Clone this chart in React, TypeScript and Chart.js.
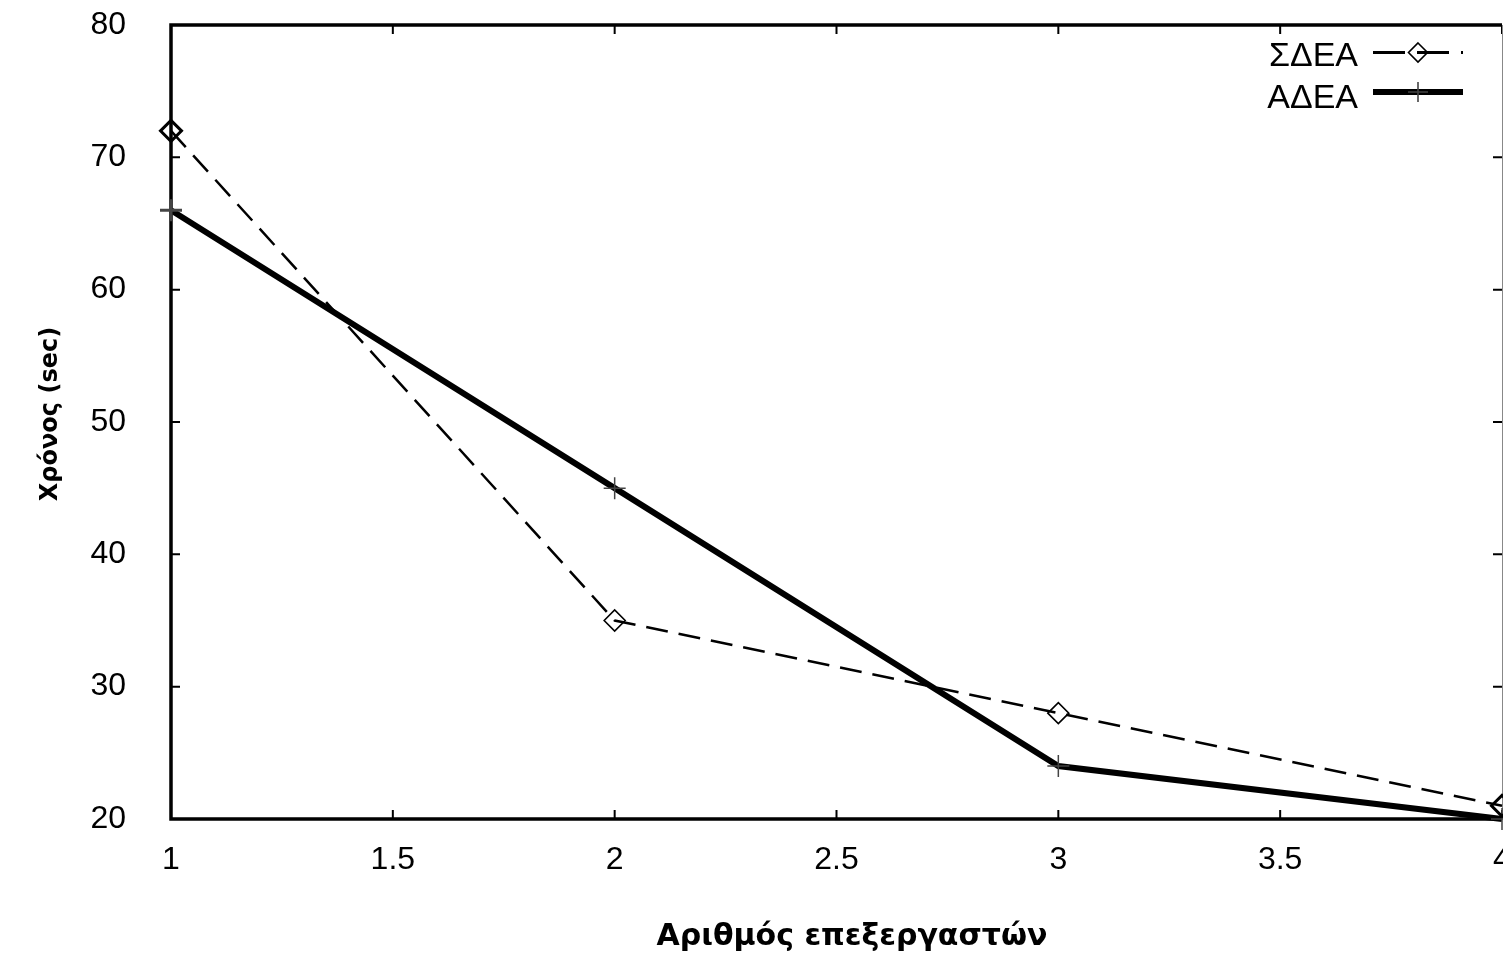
import React, { useEffect, useRef } from 'react';
import { Chart, registerables } from 'chart.js';

Chart.register(...registerables);

// ---- data ----
const processors = [1, 2, 3, 4];
const sdeaTimes = [72, 35, 28, 21];
const adeaTimes = [66, 45, 24, 20];
const seriesLabels = ['ΣΔΕΑ', 'ΑΔΕΑ'];
const xTitle = 'Αριθμός επεξεργαστών';
const yTitle = 'Χρόνος (sec)';
const xMin = 1;
const xMax = 4;
const xStep = 0.5;
const yMin = 20;
const yMax = 80;
const yStep = 10;

const W = 1503;
const H = 956;
const AREA_LEFT = 171;
const AREA_TOP = 25;
const AREA_BOTTOM = 819;
const AREA_RIGHT = 1502;

const TICK_FONT = "'Liberation Sans', Arial, sans-serif";
const TITLE_FONT = "'DejaVu Sans', Verdana, sans-serif";

function drawDiamond(ctx: CanvasRenderingContext2D, x: number, y: number, r: number) {
  ctx.beginPath();
  ctx.moveTo(x, y - r);
  ctx.lineTo(x + r, y);
  ctx.lineTo(x, y + r);
  ctx.lineTo(x - r, y);
  ctx.closePath();
  ctx.stroke();
}

const framePlugin = {
  id: 'frame',
  beforeDatasetsDraw(chart: any) {
    const { ctx, chartArea: a, scales } = chart;
    ctx.save();
    // inward ticks on all four sides
    ctx.strokeStyle = '#000';
    ctx.lineWidth = 2;
    const tl = 9;
    scales.x.ticks.forEach((t: any) => {
      const px = scales.x.getPixelForValue(t.value);
      ctx.beginPath();
      ctx.moveTo(px, a.bottom);
      ctx.lineTo(px, a.bottom - tl);
      ctx.moveTo(px, a.top);
      ctx.lineTo(px, a.top + tl);
      ctx.stroke();
    });
    scales.y.ticks.forEach((t: any) => {
      const py = scales.y.getPixelForValue(t.value);
      ctx.beginPath();
      ctx.moveTo(a.left, py);
      ctx.lineTo(a.left + tl, py);
      ctx.moveTo(a.right, py);
      ctx.lineTo(a.right - tl, py);
      ctx.stroke();
    });
    // frame
    ctx.lineWidth = 3.5;
    ctx.beginPath();
    ctx.moveTo(a.right, a.top);
    ctx.lineTo(a.left, a.top);
    ctx.lineTo(a.left, a.bottom);
    ctx.lineTo(a.right, a.bottom);
    ctx.stroke();
    ctx.lineWidth = 1;
    ctx.strokeStyle = '#888';
    ctx.beginPath();
    ctx.moveTo(a.right + 0.5, a.top);
    ctx.lineTo(a.right + 0.5, a.bottom);
    ctx.stroke();
    ctx.restore();
  },
  afterDraw(chart: any) {
    const { ctx } = chart;
    ctx.save();
    // axis titles
    ctx.fillStyle = '#000';
    ctx.font = `bold 30px ${TITLE_FONT}`;
    ctx.textAlign = 'center';
    ctx.textBaseline = 'alphabetic';
    ctx.fillText(xTitle, 852, 945);
    ctx.save();
    ctx.translate(57, 414);
    ctx.rotate(-Math.PI / 2);
    ctx.font = `bold 24px ${TITLE_FONT}`;
    ctx.fillText(yTitle, 0, 0);
    ctx.restore();

    // legend
    const ds = chart.data.datasets;
    const textRight = 1358;
    const x0 = 1373;
    const x1 = 1463;
    const xm = (x0 + x1) / 2;
    const rows = [
      { base: 66, line: 52.5 },
      { base: 108, line: 92 },
    ];
    ds.forEach((d: any, i: number) => {
      const r = rows[i];
      ctx.font = `34px ${TICK_FONT}`;
      ctx.textAlign = 'right';
      ctx.textBaseline = 'alphabetic';
      ctx.fillStyle = '#000';
      ctx.fillText(d.label, textRight, r.base);
      ctx.strokeStyle = d.borderColor;
      ctx.lineWidth = d.legendWidth || d.borderWidth;
      ctx.setLineDash(d.legendDash || []);
      ctx.beginPath();
      ctx.moveTo(x0, r.line);
      ctx.lineTo(x1, r.line);
      ctx.stroke();
      ctx.setLineDash([]);
      ctx.strokeStyle = d.pointBorderColor;
      ctx.lineWidth = 1.6;
      if (d.pointStyle === 'rectRot') {
        drawDiamond(ctx, xm, r.line, 9.5);
      } else {
        ctx.beginPath();
        ctx.moveTo(xm, r.line - 10);
        ctx.lineTo(xm, r.line + 10);
        ctx.moveTo(xm - 10, r.line);
        ctx.lineTo(xm + 10, r.line);
        ctx.stroke();
      }
    });
    ctx.restore();
  },
};

export default function App() {
  const ref = useRef<HTMLCanvasElement | null>(null);

  useEffect(() => {
    document.body.style.margin = '0';
    document.body.style.background = '#fff';
    const canvas = ref.current;
    if (!canvas) return;
    const chart = new Chart(canvas, {
      type: 'line',
      data: {
        datasets: [
          {
            label: seriesLabels[0],
            data: processors.map((p, i) => ({ x: p, y: sdeaTimes[i] })),
            borderColor: '#000',
            borderWidth: 2.5,
            borderDash: [22, 11],
            legendDash: [32, 12],
            legendWidth: 3,
            pointStyle: 'rectRot',
            pointRadius: 10.5,
            pointBorderWidth: [3, 1.6, 1.6, 3],
            pointBorderColor: '#000',
            pointBackgroundColor: 'rgba(0,0,0,0)',
            tension: 0,
            clip: false,
          } as any,
          {
            label: seriesLabels[1],
            data: processors.map((p, i) => ({ x: p, y: adeaTimes[i] })),
            borderColor: '#000',
            borderWidth: 6,
            pointStyle: 'cross',
            pointRadius: 11,
            pointBorderWidth: [3, 1.5, 1.5, 1.5],
            pointBorderColor: '#444',
            pointBackgroundColor: '#444',
            tension: 0,
            clip: false,
          } as any,
        ],
      },
      options: {
        responsive: false,
        animation: false,
        events: [],
        layout: {
          autoPadding: false,
          padding: { top: AREA_TOP, right: W - AREA_RIGHT, left: 0, bottom: 0 },
        },
        plugins: {
          legend: { display: false },
          tooltip: { enabled: false },
          title: { display: false },
        },
        scales: {
          x: {
            type: 'linear',
            min: xMin,
            max: xMax,
            grid: { display: false, drawTicks: false },
            border: { display: false },
            ticks: {
              stepSize: xStep,
              color: '#000',
              padding: 22,
              maxRotation: 0,
              autoSkip: false,
              font: { family: TICK_FONT, size: 32 },
              callback: (v: any) => String(v),
            },
            afterFit: (scale: any) => {
              scale.height = H - AREA_BOTTOM;
              scale.paddingLeft = 0;
              scale.paddingRight = 0;
            },
          },
          y: {
            type: 'linear',
            min: yMin,
            max: yMax,
            grid: { display: false, drawTicks: false },
            border: { display: false },
            ticks: {
              stepSize: yStep,
              color: '#000',
              padding: 45,
              font: { family: TICK_FONT, size: 32 },
              callback: (v: any) => String(v),
            },
            afterFit: (scale: any) => {
              scale.width = AREA_LEFT;
              scale.paddingTop = 0;
              scale.paddingBottom = 0;
            },
          },
        },
      },
      plugins: [framePlugin],
    } as any);
    return () => chart.destroy();
  }, []);

  return (
    <canvas
      ref={ref}
      width={W}
      height={H}
      style={{ display: 'block', width: W, height: H }}
    />
  );
}
